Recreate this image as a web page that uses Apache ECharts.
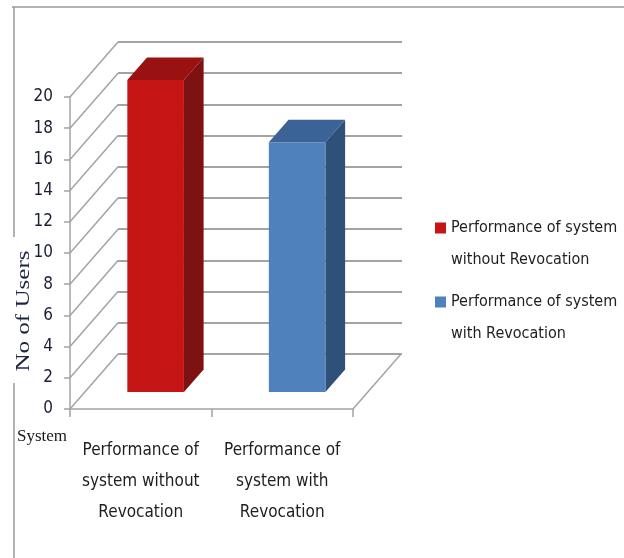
<!DOCTYPE html>
<html>
<head>
<meta charset="utf-8">
<script src="https://cdn.jsdelivr.net/npm/echarts@6/dist/echarts.min.js"></script>
<style>html,body{margin:0;padding:0;background:#fff}#c{width:624px;height:558px}</style>
</head>
<body>
<div id="c"></div>
<script>
// ---- data ----
const categoryLabels = ['Performance of\nsystem without\nRevocation', 'Performance of\nsystem with\nRevocation'];
const seriesNames = ['Performance of system\nwithout Revocation', 'Performance of system\nwith Revocation'];
const values = [20, 16];
const yTicks = [0, 2, 4, 6, 8, 10, 12, 14, 16, 18, 20];
const yAxisTitle = 'No of Users';
const xAxisTitle = 'System';

// ---- style constants ----
const NARROW = "'Liberation Sans Narrow', 'DejaVu Sans Condensed', sans-serif";
const SERIF = "'Liberation Serif', 'DejaVu Serif', serif";
const GRID_COLOR = '#a3a3a3';
const DX = 48, DY = -55;          // depth of the 3D floor
const F1 = 0.31, F2 = 0.72;       // bar depth slot
const BAR_RATIO = 0.4;
const shades = [
  { front: '#c51515', top: '#9a1111', side: '#7e1111' },
  { front: '#4f81bd', top: '#3b6396', side: '#2f5079' }
];

const chart = echarts.init(document.getElementById('c'), null, { renderer: 'canvas' });

function barRenderer(k) {
  return function (params, api) {
    const i = api.value(0), v = api.value(1);
    const base = api.coord([i, 0]);
    const top = api.coord([i, v]);
    const bw = api.size([1, 0])[0] * BAR_RATIO;
    const fx = DX * F1, fy = DY * F1;
    const dx = DX * (F2 - F1), dy = DY * (F2 - F1);
    const xl = base[0] - bw / 2 + fx, xr = base[0] + bw / 2 + fx;
    const yb = base[1] + fy, yt = top[1] + fy;
    const c = shades[k];
    return {
      type: 'group',
      children: [
        { type: 'polygon', shape: { points: [[xr, yt], [xr + dx, yt + dy], [xr + dx, yb + dy], [xr, yb]] }, style: { fill: c.side } },
        { type: 'polygon', shape: { points: [[xl, yt], [xr, yt], [xr + dx, yt + dy], [xl + dx, yt + dy]] }, style: { fill: c.top } },
        { type: 'rect', shape: { x: xl, y: yt, width: xr - xl, height: yb - yt }, style: { fill: c.front } }
      ]
    };
  };
}

function wallRenderer(params, api) {
  const v = api.value(0);
  const band = api.size([1, 0])[0];
  const p = api.coord([0, v]);
  const x0 = p[0] - band / 2;
  const children = [
    { type: 'line', shape: { x1: x0, y1: p[1], x2: x0 + DX, y2: p[1] + DY }, style: { stroke: GRID_COLOR, lineWidth: 1.5 } }
  ];
  if (v === 0) {
    const q = api.coord([categoryLabels.length - 1, 0]);
    const x1 = q[0] + band / 2;
    children.push({ type: 'line', shape: { x1: x1, y1: q[1], x2: x1 + DX, y2: q[1] + DY }, style: { stroke: GRID_COLOR, lineWidth: 1.5 } });
  }
  return { type: 'group', children: children };
}

const option = {
  animation: false,
  backgroundColor: '#fff',
  grid: [
    { left: 70, right: 271, top: 97, bottom: 149 },   // front plane
    { left: 118, right: 222, top: 42, bottom: 204 }   // back wall
  ],
  xAxis: [
    {
      type: 'category', gridIndex: 0, data: categoryLabels,
      name: xAxisTitle, nameLocation: 'start', nameGap: 3,
      nameTextStyle: { fontFamily: SERIF, fontSize: 17, color: '#1a1a1a', align: 'right', verticalAlign: 'top', padding: [19, 0, 0, 0] },
      axisLine: { lineStyle: { color: GRID_COLOR, width: 1.5 } },
      axisTick: { show: true, length: 8, lineStyle: { color: GRID_COLOR, width: 1.5 } },
      axisLabel: { interval: 0, margin: 26, fontFamily: NARROW, fontSize: 17, lineHeight: 31, color: '#1e1e1e' }
    },
    { type: 'category', gridIndex: 1, data: categoryLabels, show: false }
  ],
  yAxis: [
    {
      type: 'value', gridIndex: 0, min: 0, max: 20, interval: 2,
      axisLine: { show: true, lineStyle: { color: GRID_COLOR, width: 1.5 } },
      axisTick: { show: true, length: 6, lineStyle: { color: GRID_COLOR, width: 1.5 } },
      axisLabel: { margin: 17, fontFamily: NARROW, fontSize: 17, color: '#1b1f35' },
      splitLine: { show: false }
    },
    {
      type: 'value', gridIndex: 1, min: 0, max: 20, interval: 2,
      axisLine: { show: false }, axisTick: { show: false }, axisLabel: { show: false },
      splitLine: { show: true, lineStyle: { color: GRID_COLOR, width: 2 } }
    }
  ],
  legend: {
    data: seriesNames,
    orient: 'vertical', left: 435, top: 180, padding: 0,
    itemWidth: 11, itemHeight: 11, itemGap: -22,
    icon: 'rect',
    formatter: function (name) { return '\n' + name; },
    textStyle: { fontFamily: NARROW, fontSize: 16, color: '#1e1e1e', lineHeight: 32 }
  },
  series: [
    {
      type: 'custom', name: 'wall', xAxisIndex: 0, yAxisIndex: 0, clip: false, silent: true, z: 1,
      renderItem: wallRenderer,
      encode: { y: 0 },
      data: yTicks.map(v => [v])
    },
    {
      type: 'custom', name: seriesNames[0], xAxisIndex: 0, yAxisIndex: 0, clip: false, z: 3,
      itemStyle: { color: shades[0].front },
      renderItem: barRenderer(0),
      encode: { x: 0, y: 1 },
      data: [[0, values[0]]]
    },
    {
      type: 'custom', name: seriesNames[1], xAxisIndex: 0, yAxisIndex: 0, clip: false, z: 3,
      itemStyle: { color: shades[1].front },
      renderItem: barRenderer(1),
      encode: { x: 0, y: 1 },
      data: [[1, values[1]]]
    }
  ],
  graphic: [
    { type: 'line', shape: { x1: 12, y1: 7, x2: 624, y2: 7 }, style: { stroke: '#9a9a9a', lineWidth: 1.5 }, silent: true },
    { type: 'line', shape: { x1: 14, y1: 7, x2: 14, y2: 237 }, style: { stroke: '#9a9a9a', lineWidth: 1.5 }, silent: true },
    { type: 'line', shape: { x1: 14, y1: 383, x2: 14, y2: 558 }, style: { stroke: '#9a9a9a', lineWidth: 1.5 }, silent: true },
    {
      type: 'text', x: 24, y: 311, rotation: Math.PI / 2, scaleX: 1.32, silent: true,
      style: { text: yAxisTitle, font: '19px ' + SERIF, fill: '#1c2340', align: 'center', verticalAlign: 'middle' }
    }
  ]
};
chart.setOption(option);
</script>
</body>
</html>
